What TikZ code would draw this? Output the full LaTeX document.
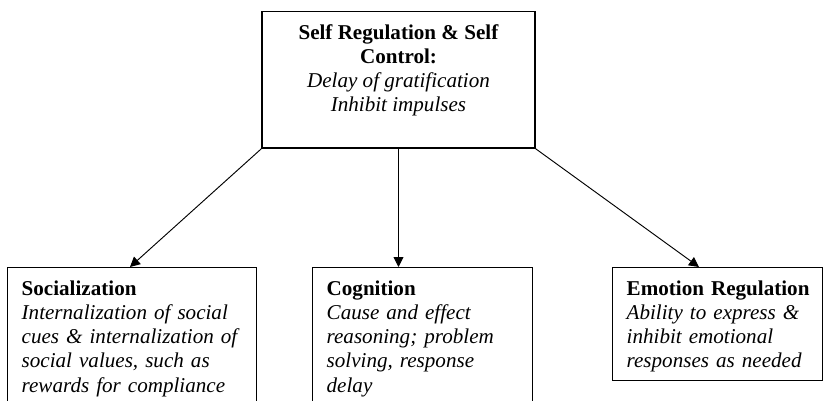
\documentclass[tikz,border=0pt]{standalone}
\usepackage{fontspec}
\setmainfont{Liberation Serif}
\usetikzlibrary{arrows.meta,calc}
\hyphenpenalty=10000

\begin{document}
\begin{tikzpicture}[x=0.03cm, y=-0.03cm,
  every node/.style={font=\fontsize{18}{20.6}\selectfont},
  box/.style={draw, line width=1.1pt, inner xsep=12pt, inner ysep=7pt, text height=16.8pt, align=left, anchor=north west},
  link/.style={-{Triangle[length=8.5pt, width=8.5pt]}, line width=0.8pt}]
			\useasboundingbox (0,0) rectangle (828,401);

			% Nodes
			\node[draw, line width=1.1pt, anchor=north, minimum width=273*0.03cm, inner xsep=0pt, inner ysep=11pt, text depth=20pt, align=center] (selfreg) at (398.5,11)
				{\textbf{Self Regulation \& Self}\\ \textbf{Control:}\\ \textit{Delay of gratification}\\ \textit{Inhibit impulses}};
			\node[box, text width=249*0.03cm-24pt] (social) at (7,267)
				{\textbf{Socialization}\\ \textit{Internalization of social}\\ \textit{cues \& internalization of}\\ \textit{social values, such as}\\ \textit{rewards for compliance}};
			\node[box, text width=220*0.03cm-24pt] (cog) at (312,267)
				{\textbf{Cognition}\\ \textit{Cause and effect}\\ \textit{reasoning; problem}\\ \textit{solving, response}\\ \textit{delay}};
			\node[box, text width=210*0.03cm-24pt] (emo) at (612,267)
				{\mbox{\textbf{Emotion Regulation}}\\ \mbox{\textit{Ability to express \&}}\\ \textit{inhibit emotional}\\ \mbox{\textit{responses as needed}}};

			% Links
			\draw[link] (selfreg.south west) -- ($(social.north west)+(123,0)$);
			\draw[link] (selfreg.south) -- (selfreg.south |- cog.north);
			\draw[link] (selfreg.south east) -- ($(emo.north west)+(87,0)$);
		\end{tikzpicture}
\end{document}
